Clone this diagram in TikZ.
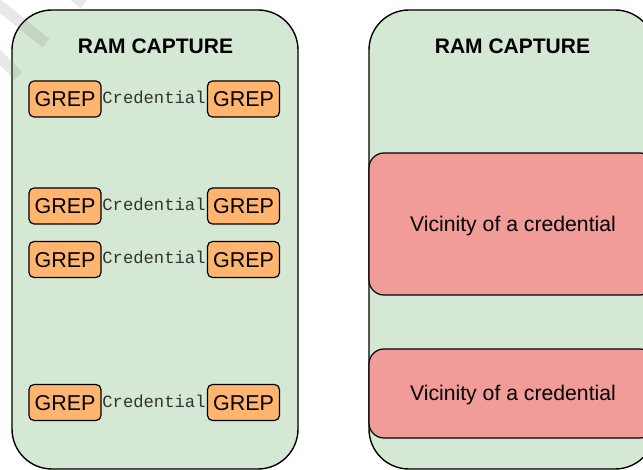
\documentclass[tikz,border=0pt]{standalone}
\usepackage{fontspec}
\setmainfont{Liberation Sans}
\newfontfamily\monof{Liberation Mono}
\definecolor{panelgreen}{HTML}{D5E8D4}
\definecolor{greporange}{HTML}{FFB570}
\definecolor{vicred}{HTML}{F19C99}
\definecolor{credgray}{HTML}{333333}
\begin{document}
\begin{tikzpicture}[x=1pt,y=-1pt,
  panel/.style={draw=black,fill=panelgreen,line width=1.4pt,rounded corners=40pt},
  grepbox/.style={draw=black,fill=greporange,line width=1.2pt,rounded corners=5pt,
     minimum width=72pt,minimum height=36pt,inner sep=0pt,text height=15.5pt,text depth=0pt,
     font=\fontsize{21.5}{24}\selectfont},
  credtext/.style={text=credgray,inner sep=0pt,anchor=base,font=\monof\fontsize{17.2}{20}\selectfont},
  title/.style={font=\bfseries\fontsize{21}{24}\selectfont,inner sep=0pt,anchor=base},
  vicbox/.style={draw=black,fill=vicred,line width=1.2pt,rounded corners=15pt},
  victext/.style={font=\fontsize{21.2}{24}\selectfont,inner sep=0pt,anchor=base},
  wmark/.style={line width=11pt,draw=gray,opacity=0.18}
]
\useasboundingbox (0,0) rectangle (643,470);
\clip (0,0) rectangle (643,470);
\fill[white] (0,0) rectangle (643,470);

% left panel
\draw[panel] (12,10) rectangle (298,469);
\node[title] (t1) at (155.5,53.5) {RAM CAPTURE};

\foreach \i/\y in {1/99, 2/206, 3/259.5, 4/402.5} {
  \node[grepbox] (gl\i) at (65,\y) {GREP};
  \node[grepbox] (gr\i) at (243.5,\y) {GREP};
  \node[credtext] (c\i) at (154,\y+4.5) {Credential};
}

% right panel
\draw[panel] (369,10) rectangle (655,469);
\node[title] (t2) at (512.5,53.5) {RAM CAPTURE};
\draw[vicbox] (369,153) rectangle (655,295);
\node[victext] (v1) at (513,231.5) {Vicinity of a credential};
\draw[vicbox] (369,349) rectangle (655,438);
\node[victext] (v2) at (513,401) {Vicinity of a credential};

% faint watermark bands
\draw[wmark] (-5,2) -- (46,43);
\draw[wmark] (-5,52) -- (18,76);
\draw[wmark] (74,-4) -- (84,4);
\end{tikzpicture}
\end{document}
